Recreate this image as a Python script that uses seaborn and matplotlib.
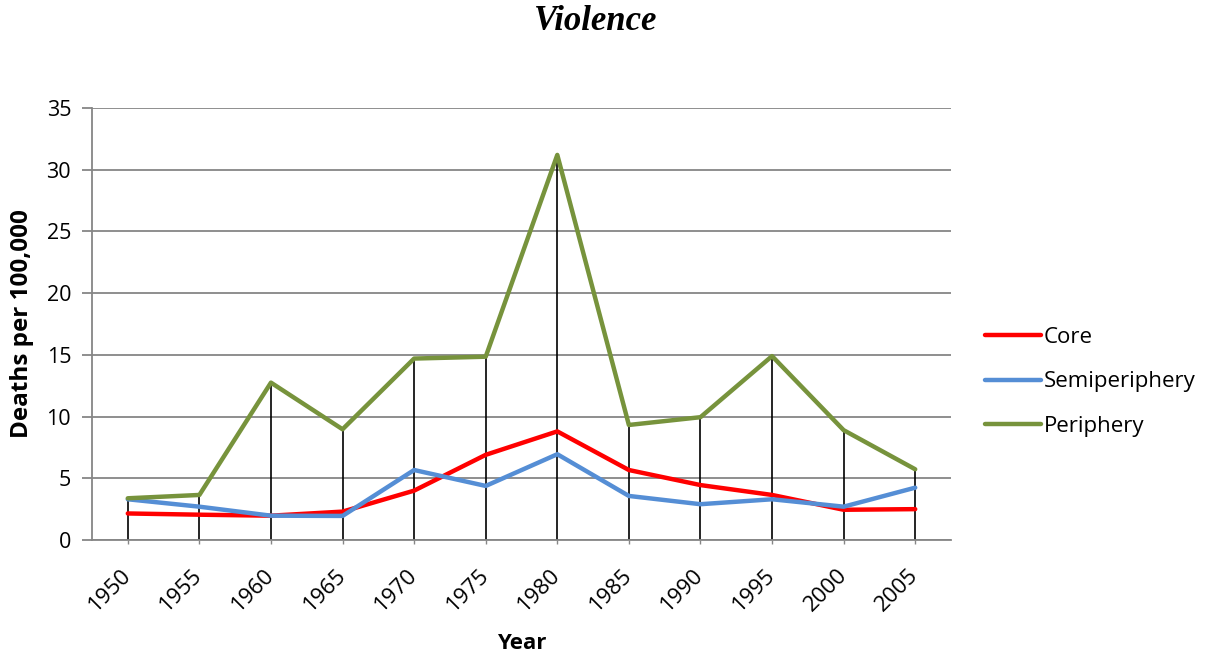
import matplotlib
matplotlib.use("Agg")
import matplotlib.pyplot as plt
from matplotlib import font_manager
import seaborn as sns
import pandas as pd
import numpy as np

years = ["1950", "1955", "1960", "1965", "1970", "1975",
         "1980", "1985", "1990", "1995", "2000", "2005"]
core = [2.15, 2.05, 1.97, 2.3, 4.0, 6.9, 8.8, 5.67, 4.45, 3.65, 2.45, 2.5]
semiperiphery = [3.3, 2.7, 1.97, 1.95, 5.67, 4.38, 6.95, 3.57, 2.9, 3.3, 2.7, 4.24]
periphery = [3.38, 3.65, 12.75, 8.97, 14.7, 14.85, 31.2, 9.32, 9.95, 14.9, 8.9, 5.73]

series_names = ["Core", "Semiperiphery", "Periphery"]
series_colors = ["#FF0000", "#558ED5", "#77933C"]
yticks = [0, 5, 10, 15, 20, 25, 30, 35]

df = pd.DataFrame({
    "Year": years * 3,
    "Deaths": core + semiperiphery + periphery,
    "Series": sum([[n] * len(years) for n in series_names], []),
})

sns.set_style("white")
plt.rcParams["font.family"] = ["Open Sans", "DejaVu Sans"]
plt.rcParams["font.serif"] = ["Liberation Serif", "Times New Roman", "DejaVu Serif"]
plt.rcParams["text.color"] = "black"
plt.rcParams["axes.labelcolor"] = "black"
plt.rcParams["xtick.labelcolor"] = "black"
plt.rcParams["ytick.labelcolor"] = "black"

fig = plt.figure(figsize=(12.08, 6.54), dpi=100)
ax = fig.add_axes([92 / 1208, 1 - 540 / 654, (951 - 92) / 1208, (540 - 108) / 654])

grid_gray = "#868686"

# drop lines from the highest series down to the axis
x_idx = np.arange(len(years))
tops = np.max(np.vstack([core, semiperiphery, periphery]), axis=0)
ax.vlines(x_idx, 0, tops, color="black", lw=1.2, zorder=2)

sns.lineplot(data=df, x="Year", y="Deaths", hue="Series",
             palette=dict(zip(series_names, series_colors)),
             linewidth=3.2, ax=ax, zorder=3, sort=False)

ax.set_xlim(-0.5, len(years) - 0.5)
ax.set_ylim(0, 35)
ax.set_yticks(yticks)
ax.set_xticks(x_idx)
ax.set_xticklabels(years, rotation=45, ha="right", va="center",
                   rotation_mode="anchor")
ax.yaxis.grid(True, color=grid_gray, lw=1.3)
ax.set_axisbelow(True)

for s in ["top", "right"]:
    ax.spines[s].set_visible(False)
for s in ["left", "bottom"]:
    ax.spines[s].set_color(grid_gray)
    ax.spines[s].set_linewidth(1.3)

ax.tick_params(axis="y", which="major", left=True, length=7, width=1.3,
               color=grid_gray, labelsize=15.5, pad=8)
ax.tick_params(axis="x", which="major", bottom=True, length=3, width=1.0,
               color=grid_gray, labelsize=16, pad=20)

ax.set_xlabel("Year", fontsize=16, fontweight="bold", labelpad=13)
ax.set_ylabel("Deaths per 100,000", fontsize=17.5, fontweight="bold", labelpad=9)

# title in a bold italic serif face
title_fp = font_manager.FontProperties(family="serif", style="italic",
                                       weight="bold", size=25)
title_fp.set_file(font_manager.findfont(title_fp))
fig.text(596 / 1208, 1 - 22 / 654, "Violence", fontproperties=title_fp,
         ha="center", va="center")

handles, labels = ax.get_legend_handles_labels()
ax.legend(handles, labels, loc="center left",
          bbox_to_anchor=(985 / 1208, 1 - 382 / 654),
          bbox_transform=fig.transFigure, frameon=False, fontsize=16,
          handlelength=2.5, handletextpad=0.15, labelspacing=1.05,
          borderpad=0, borderaxespad=0)

fig.savefig("out.png", dpi=100)
